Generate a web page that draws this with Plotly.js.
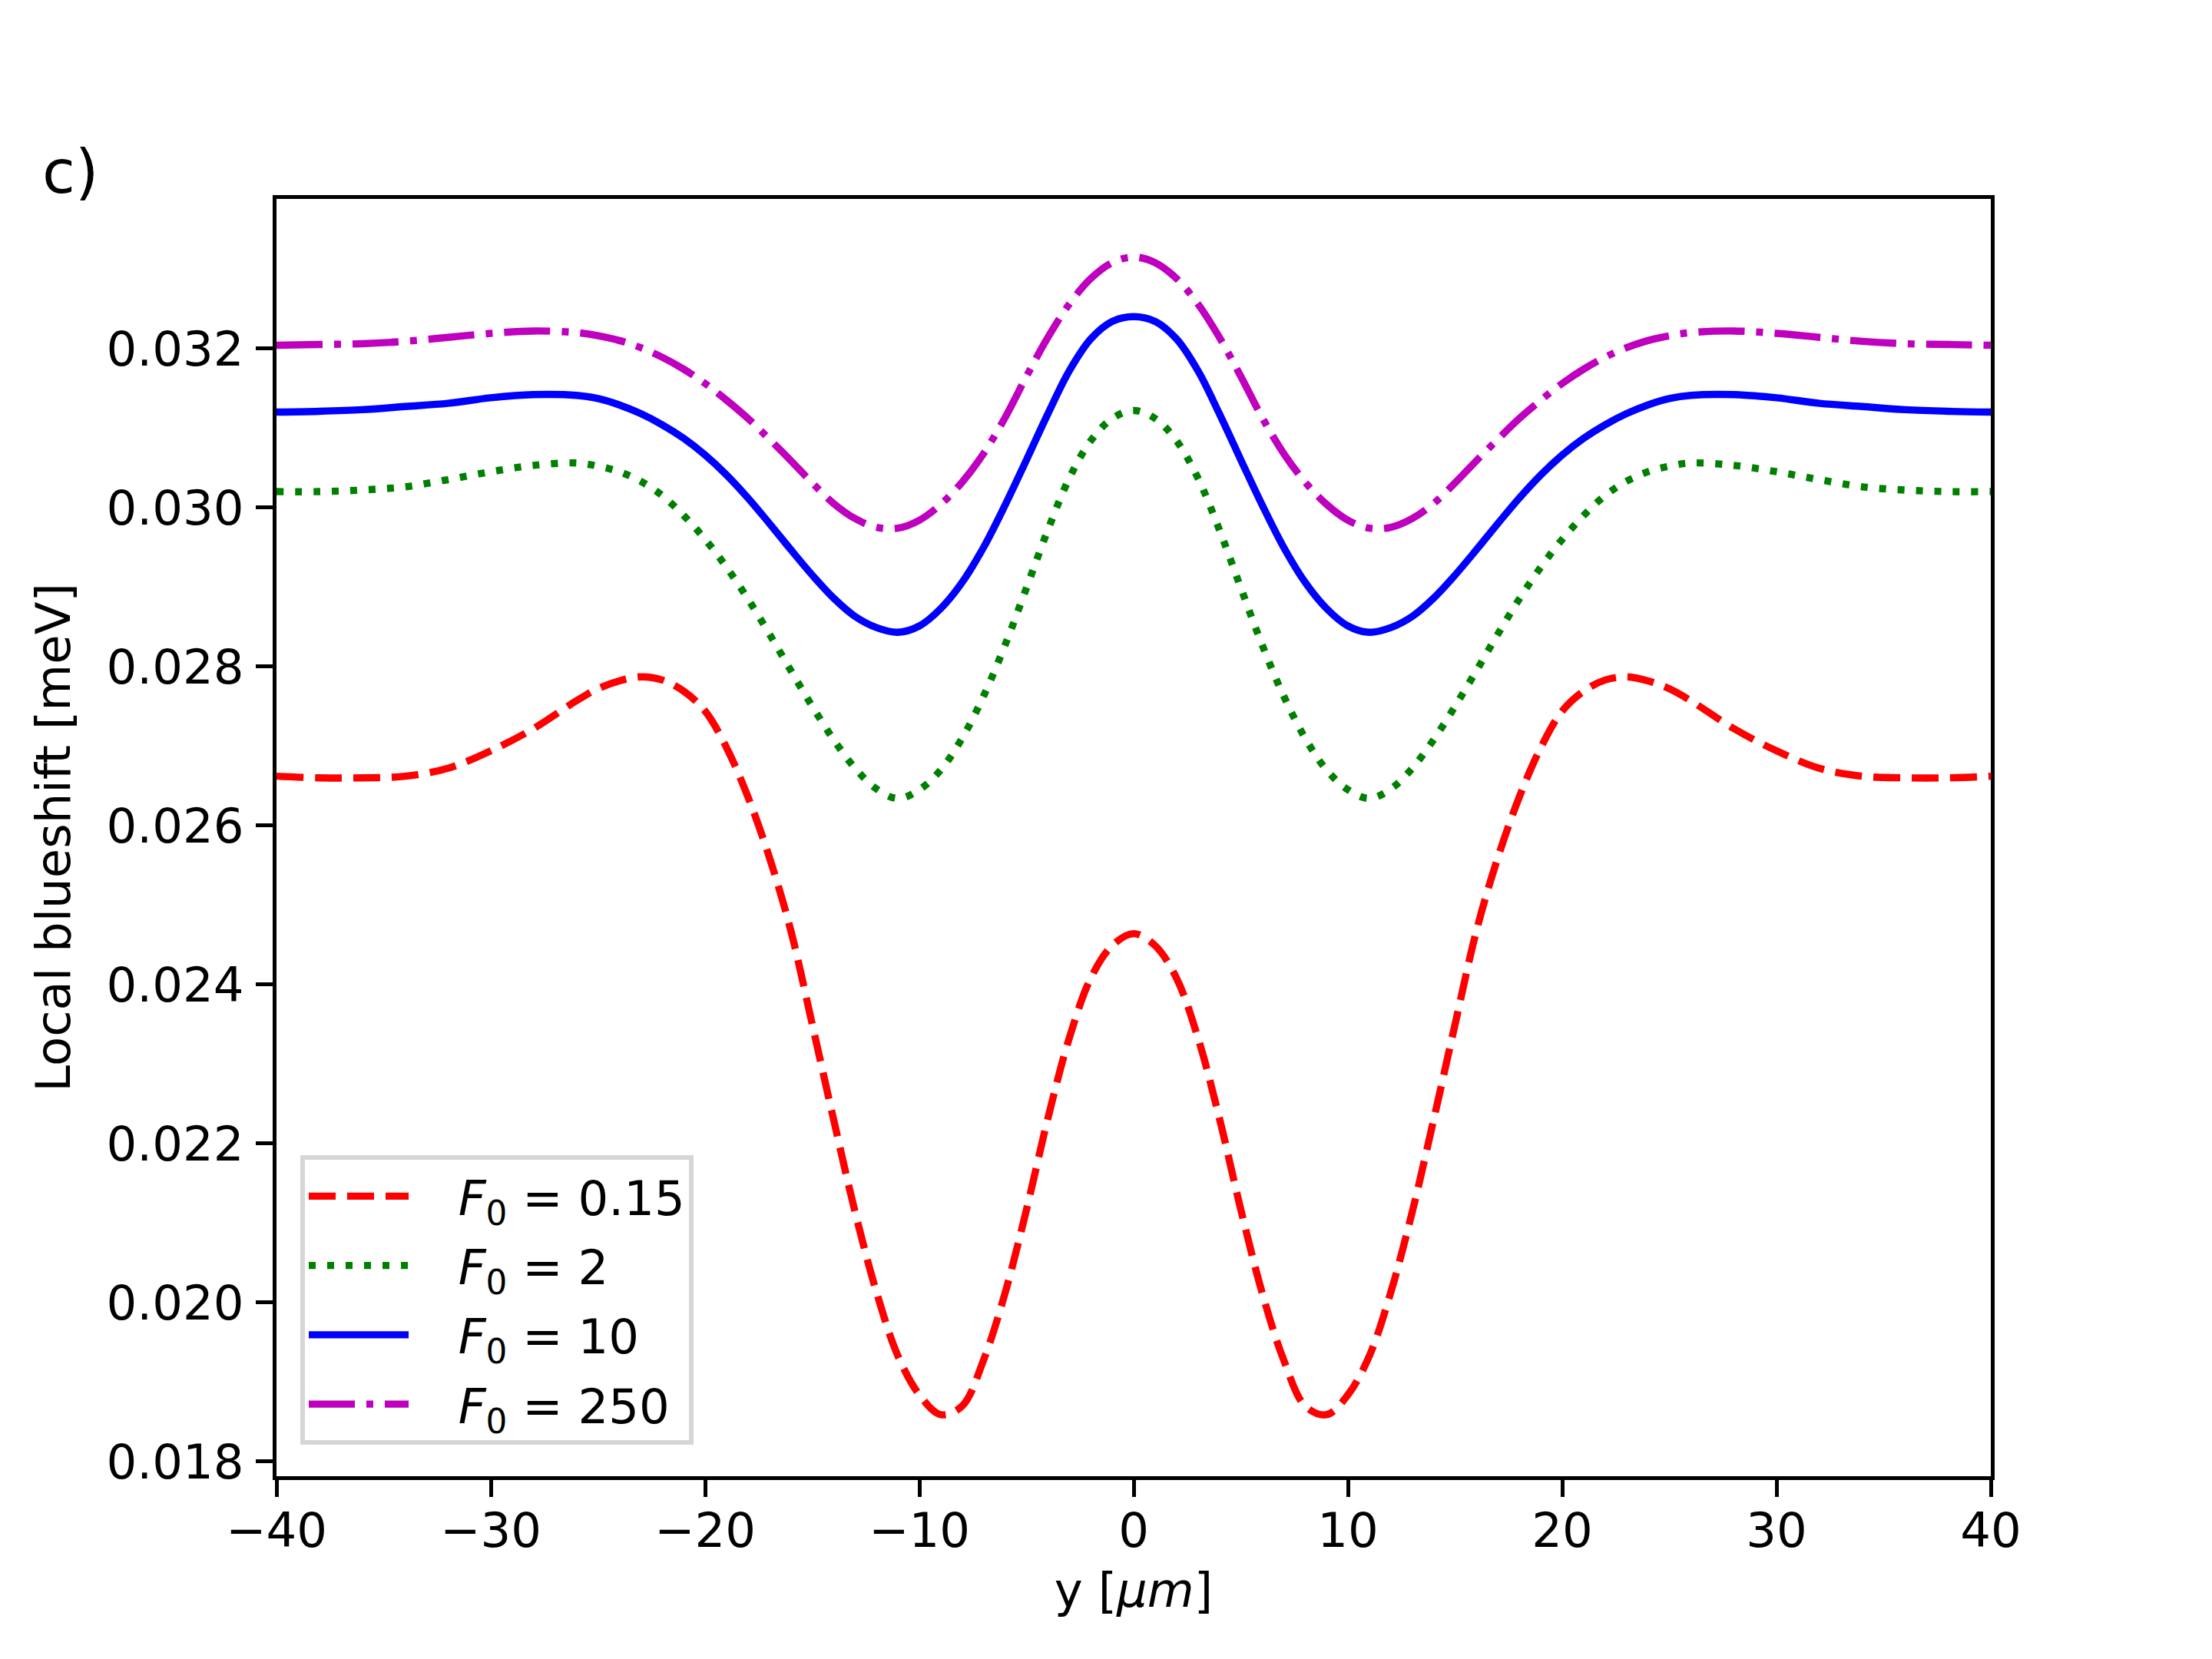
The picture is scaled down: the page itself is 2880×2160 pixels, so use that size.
<!DOCTYPE html>
<html>
<head>
<meta charset="utf-8">
<script src="https://cdn.plot.ly/plotly-3.0.1.min.js"></script>
<style>
  html, body { margin: 0; padding: 0; background: #ffffff; }
  #chart { width: 2880px; height: 2160px; }
</style>
</head>
<body>
<div id="chart"></div>
<script>
// -----------------------------
// Data (y in um, blueshift in meV)
// -----------------------------
const yPos = [-40, -38, -36, -34, -32, -30, -28, -26, -25, -24, -23, -22, -21, -20, -19, -18, -17,
  -16, -15, -14, -13, -12, -11, -10, -9, -8, -7, -6, -5, -4, -3, -2, -1, 0,
  1, 2, 3, 4, 5, 6, 7, 8, 9, 10, 11, 12, 13, 14, 15, 16,
  17, 18, 19, 20, 21, 22, 23, 24, 25, 26, 28, 30, 32, 34, 36, 38, 40];

const shiftF015 = [0.02662, 0.02660, 0.02660, 0.02662, 0.02672, 0.02694, 0.02722, 0.02757, 0.02772, 0.02782, 0.02787, 0.02783, 0.02769, 0.02744, 0.02698, 0.02636, 0.02560,
  0.02468, 0.02350, 0.02230, 0.02114, 0.02013, 0.01933, 0.01884, 0.01859, 0.01870, 0.01928, 0.02012, 0.02117, 0.02232, 0.02333, 0.02408, 0.02449, 0.02464,
  0.02449, 0.02408, 0.02333, 0.02232, 0.02117, 0.02012, 0.01928, 0.01870, 0.01859, 0.01884, 0.01933, 0.02013, 0.02114, 0.02230, 0.02350, 0.02468,
  0.02560, 0.02636, 0.02698, 0.02744, 0.02769, 0.02783, 0.02787, 0.02782, 0.02772, 0.02757, 0.02722, 0.02694, 0.02672, 0.02662, 0.02660, 0.02660, 0.02662];

const shiftF2 = [0.03020, 0.03020, 0.03022, 0.03026, 0.03035, 0.03045, 0.03053, 0.03056, 0.03052, 0.03045, 0.03033, 0.03015, 0.02990, 0.02960, 0.02925, 0.02885, 0.02841,
  0.02795, 0.02750, 0.02708, 0.02672, 0.02646, 0.02634, 0.02645, 0.02670, 0.02710, 0.02763, 0.02827, 0.02899, 0.02972, 0.03037, 0.03084, 0.03112, 0.03122,
  0.03112, 0.03084, 0.03037, 0.02972, 0.02899, 0.02827, 0.02763, 0.02710, 0.02670, 0.02645, 0.02634, 0.02646, 0.02672, 0.02708, 0.02750, 0.02795,
  0.02841, 0.02885, 0.02925, 0.02960, 0.02990, 0.03015, 0.03033, 0.03045, 0.03052, 0.03056, 0.03053, 0.03045, 0.03035, 0.03026, 0.03022, 0.03020, 0.03020];

const shiftF10 = [0.03120, 0.03121, 0.03123, 0.03127, 0.03131, 0.03138, 0.03142, 0.03141, 0.03137, 0.03129, 0.03118, 0.03104, 0.03087, 0.03066, 0.03041, 0.03012, 0.02980,
  0.02947, 0.02915, 0.02886, 0.02863, 0.02849, 0.02843, 0.02851, 0.02873, 0.02906, 0.02950, 0.03003, 0.03060, 0.03118, 0.03172, 0.03212, 0.03234, 0.03240,
  0.03234, 0.03212, 0.03172, 0.03118, 0.03060, 0.03003, 0.02950, 0.02906, 0.02873, 0.02851, 0.02843, 0.02849, 0.02863, 0.02886, 0.02915, 0.02947,
  0.02980, 0.03012, 0.03041, 0.03066, 0.03087, 0.03104, 0.03118, 0.03129, 0.03137, 0.03141, 0.03142, 0.03138, 0.03131, 0.03127, 0.03123, 0.03121, 0.03120];

const shiftF250 = [0.03204, 0.03205, 0.03206, 0.03209, 0.03214, 0.03219, 0.03222, 0.03220, 0.03216, 0.03210, 0.03201, 0.03189, 0.03174, 0.03156, 0.03135, 0.03112, 0.03086,
  0.03059, 0.03031, 0.03005, 0.02986, 0.02975, 0.02974, 0.02984, 0.03004, 0.03032, 0.03068, 0.03113, 0.03165, 0.03214, 0.03256, 0.03288, 0.03308, 0.03315,
  0.03308, 0.03288, 0.03256, 0.03214, 0.03165, 0.03113, 0.03068, 0.03032, 0.03004, 0.02984, 0.02974, 0.02975, 0.02986, 0.03005, 0.03031, 0.03059,
  0.03086, 0.03112, 0.03135, 0.03156, 0.03174, 0.03189, 0.03201, 0.03210, 0.03216, 0.03220, 0.03222, 0.03219, 0.03214, 0.03209, 0.03206, 0.03205, 0.03204];

const legendNames = ["0.15", "2", "10", "250"];
const xTicks = [-40, -30, -20, -10, 0, 10, 20, 30, 40];
const yTicks = [0.018, 0.020, 0.022, 0.024, 0.026, 0.028, 0.030, 0.032];

// -----------------------------
// Styling (matplotlib look at 450 dpi)
// -----------------------------
const FONT = "DejaVu Sans, Liberation Sans, sans-serif";
const FS = 62.5;
const LW = 9.4;

function curve(values, name, color, dash, group) {
  return {
    type: "scatter",
    mode: "lines",
    x: yPos,
    y: values,
    // nbsp pads the gap between the line sample and the label, like matplotlib
    name: "\u00a0\u00a0\u00a0<i>F</i><sub>0</sub> = " + name,
    legendgroup: group,
    line: { color: color, width: LW, dash: dash, shape: "spline", smoothing: 1 }
  };
}

const traces = [
  curve(shiftF015, legendNames[0], "#ff0000", "35px,15px", "a"),
  curve(shiftF2, legendNames[1], "#008000", "9px,15px", "b"),
  curve(shiftF10, legendNames[2], "#0000ff", "solid", "c"),
  curve(shiftF250, legendNames[3], "#bf00bf", "60px,15px,9px,15px", "d")
];

const axisCommon = {
  showline: true,
  mirror: true,
  linecolor: "#000000",
  linewidth: 5,
  showgrid: false,
  zeroline: false,
  ticks: "outside",
  ticklen: 22,
  tickwidth: 5,
  tickcolor: "#000000",
  tickfont: { family: FONT, size: FS, color: "#000000" }
};

const layout = {
  width: 2880,
  height: 2160,
  paper_bgcolor: "#ffffff",
  plot_bgcolor: "#ffffff",
  margin: { l: 360, r: 288, t: 259, b: 238 },
  font: { family: FONT, size: FS, color: "#000000" },
  showlegend: true,
  xaxis: {
    ...axisCommon,
    range: [-40, 40],
    tickvals: xTicks,
    ticklabelstandoff: -10,
    title: { text: "y [<i>μm</i>]", font: { family: FONT, size: FS }, standoff: 22 }
  },
  yaxis: {
    ...axisCommon,
    range: [0.017816, 0.033881],
    tickvals: yTicks,
    tickformat: ".3f",
    ticklabelstandoff: 3,
    title: { text: "Local blueshift [meV]", font: { family: FONT, size: FS }, standoff: 28 }
  },
  legend: {
    x: 0.0139,
    y: 0.0245,
    xanchor: "left",
    yanchor: "bottom",
    bgcolor: "rgba(255,255,255,0.8)",
    bordercolor: "#d6d6d6",
    borderwidth: 6,
    font: { family: FONT, size: FS, color: "#000000" },
    itemwidth: 130,
    tracegroupgap: 6
  },
  annotations: [{
    text: "c)",
    xref: "paper",
    yref: "paper",
    x: -0.1375,
    y: 1.0211,
    xanchor: "left",
    yanchor: "middle",
    showarrow: false,
    font: { family: FONT, size: 78, color: "#000000" }
  }]
};

Plotly.newPlot("chart", traces, layout, { displayModeBar: false, staticPlot: true });
</script>
</body>
</html>
